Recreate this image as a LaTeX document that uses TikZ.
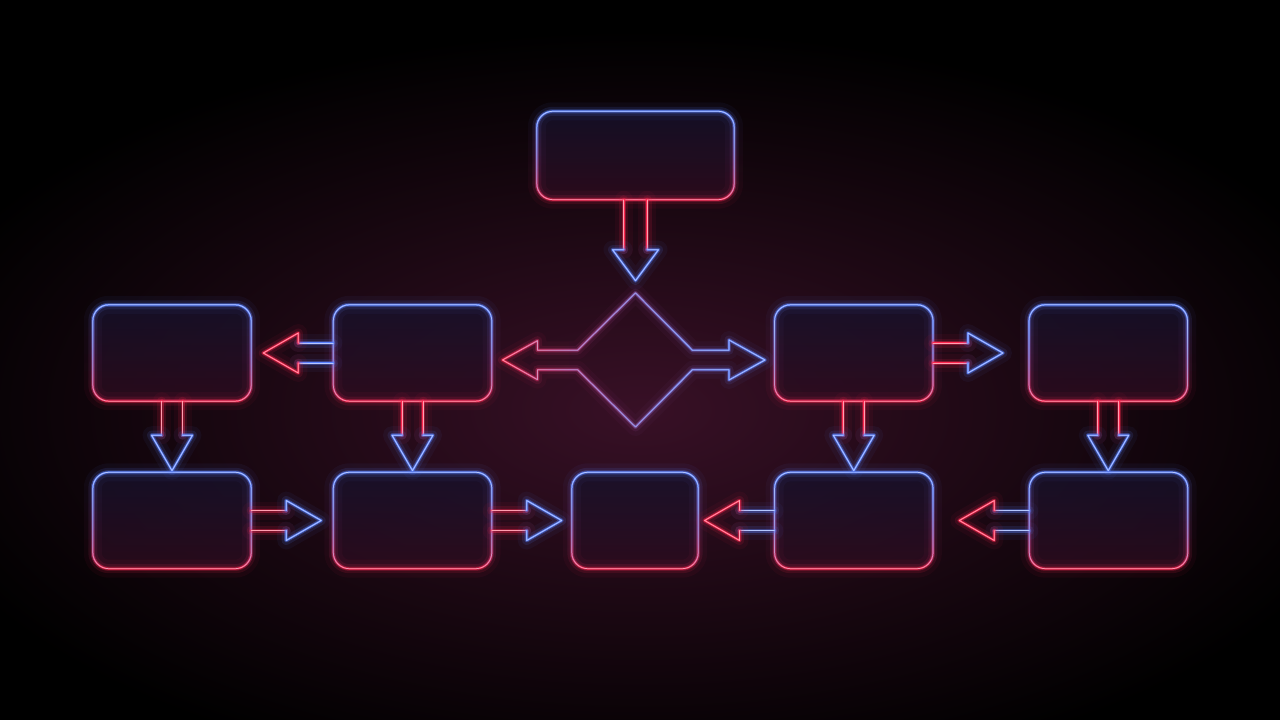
\documentclass[tikz,border=0pt]{standalone}
\usetikzlibrary{fadings,calc}
\definecolor{nred}{RGB}{255,40,80}
\definecolor{nblue}{RGB}{90,130,255}
\definecolor{bgred}{RGB}{56,16,38}
\definecolor{boxtop}{RGB}{22,18,44}
\definecolor{boxbot}{RGB}{46,12,30}
\tikzfading[name=opT, top color=transparent!0, middle color=transparent!55, bottom color=transparent!100]
\tikzfading[name=opB, top color=transparent!100, middle color=transparent!55, bottom color=transparent!0]
\tikzfading[name=opL, left color=transparent!0, middle color=transparent!50, right color=transparent!100]
\tikzfading[name=opR, left color=transparent!100, middle color=transparent!50, right color=transparent!0]
\newcommand\glowpath[3]{%
  \draw[#1, line width=18pt, opacity=0.05, path fading=#2] #3;
  \draw[#1, line width=9pt, opacity=0.12, path fading=#2] #3;
  \draw[#1, line width=4pt, opacity=0.35, path fading=#2] #3;
  \draw[#1, line width=1.8pt, path fading=#2] #3;
  \draw[#1!45!white, line width=0.7pt, path fading=#2] #3;
}
\newcommand\glowsolid[2]{%
  \draw[#1, line width=18pt, opacity=0.05] #2;
  \draw[#1, line width=9pt, opacity=0.12] #2;
  \draw[#1, line width=4pt, opacity=0.35] #2;
  \draw[#1, line width=1.8pt] #2;
  \draw[#1!45!white, line width=0.7pt] #2;
}
\newcommand\duo[5]{\glowpath{#1}{#2}{#5}\glowpath{#3}{#4}{#5}}
\newcommand\boxfill[1]{\shade[top color=boxtop, bottom color=boxbot, rounded corners=16pt, opacity=0.8] (#1.north west) rectangle (#1.south east);}
\newcommand\boxline[1]{\duo{nred}{opB}{nblue}{opT}{[rounded corners=16pt] (#1.north west) rectangle (#1.south east)}}
% #1 source node, #2 shaft colour, #3 head colour
\newcommand\downarr[3]{\begin{scope}[shift={(#1.south)}]%
  \glowsolid{#2}{(-10.5,0) -- (-10.5,34) (10.5,0) -- (10.5,34)}%
  \glowsolid{#3}{(-10.5,34) -- (-20.5,34) -- (0,69.5) -- (20.5,34) -- (10.5,34)}\end{scope}}
\newcommand\rightarr[3]{\begin{scope}[shift={(#1.east)}]%
  \glowsolid{#2}{(0,-10) -- (35,-10) (0,10) -- (35,10)}%
  \glowsolid{#3}{(35,-10) -- (35,-20) -- (70,0) -- (35,20) -- (35,10)}\end{scope}}
\newcommand\leftarr[3]{\begin{scope}[shift={(#1.west)}]%
  \glowsolid{#2}{(0,-10) -- (-35,-10) (0,10) -- (-35,10)}%
  \glowsolid{#3}{(-35,-10) -- (-35,-20) -- (-70,0) -- (-35,20) -- (-35,10)}\end{scope}}
\begin{document}
\begin{tikzpicture}[x=1pt, y=-1pt, line join=round, line cap=round,
  box/.style={rectangle, inner sep=0pt, draw=none, minimum width=158pt, minimum height=96pt}]
\useasboundingbox (0,0) rectangle (1280,720);
\fill[black] (0,0) rectangle (1280,720);
\shade[inner color=bgred, outer color=black] (640,410) ellipse (760 and 380);
% nodes
\node[box, minimum width=197pt, minimum height=88pt] (top) at (635.5,155.5) {};
\node[box] (A) at (172,353) {};
\node[box] (B) at (412.5,353) {};
\node[box] (C) at (853.75,353) {};
\node[box] (D) at (1108.25,353) {};
\node[box] (E) at (172,520.5) {};
\node[box] (F) at (412.5,520.5) {};
\node[box, minimum width=126pt] (G) at (635,520.5) {};
\node[box] (H) at (853.75,520.5) {};
\node[box] (I) at (1108.5,520.5) {};
\coordinate (dia) at (635.5,360);
% fills
\foreach \n in {top,A,B,C,D,E,F,G,H,I} {\boxfill{\n}}
% outlines
\foreach \n in {top,A,B,C,D,E,F,G,H,I} {\boxline{\n}}
% diamond with two arrows
\begin{scope}[shift={(dia)}]
\duo{nred}{opL}{nblue}{opR}{(0,-67) -- (-58,-9.7) -- (-98,-9.7) -- (-98,-19.3) -- (-133,0) -- (-98,19.7) -- (-98,9.7) -- (-58,9.7) -- (0,67) -- (57,9.7) -- (93.5,9.7) -- (93.5,20) -- (129.5,0) -- (93.5,-20) -- (93.5,-9.7) -- (57,-9.7) -- cycle}
\end{scope}
% top arrow
\begin{scope}[shift={(top.south)}]
\glowsolid{nred}{(-11.7,0) -- (-11.7,50) (11.7,0) -- (11.7,50)}
\glowsolid{nblue}{(-11.7,50) -- (-23,50) -- (0,81) -- (23,50) -- (11.7,50)}
\end{scope}
\downarr{A}{nred}{nblue}
\downarr{B}{nred}{nblue}
\downarr{C}{nred}{nblue}
\downarr{D}{nred}{nblue}
\leftarr{B}{nblue}{nred}
\rightarr{C}{nred}{nblue}
\rightarr{E}{nred}{nblue}
\rightarr{F}{nred}{nblue}
\leftarr{H}{nblue}{nred}
\leftarr{I}{nblue}{nred}
\end{tikzpicture}
\end{document}
